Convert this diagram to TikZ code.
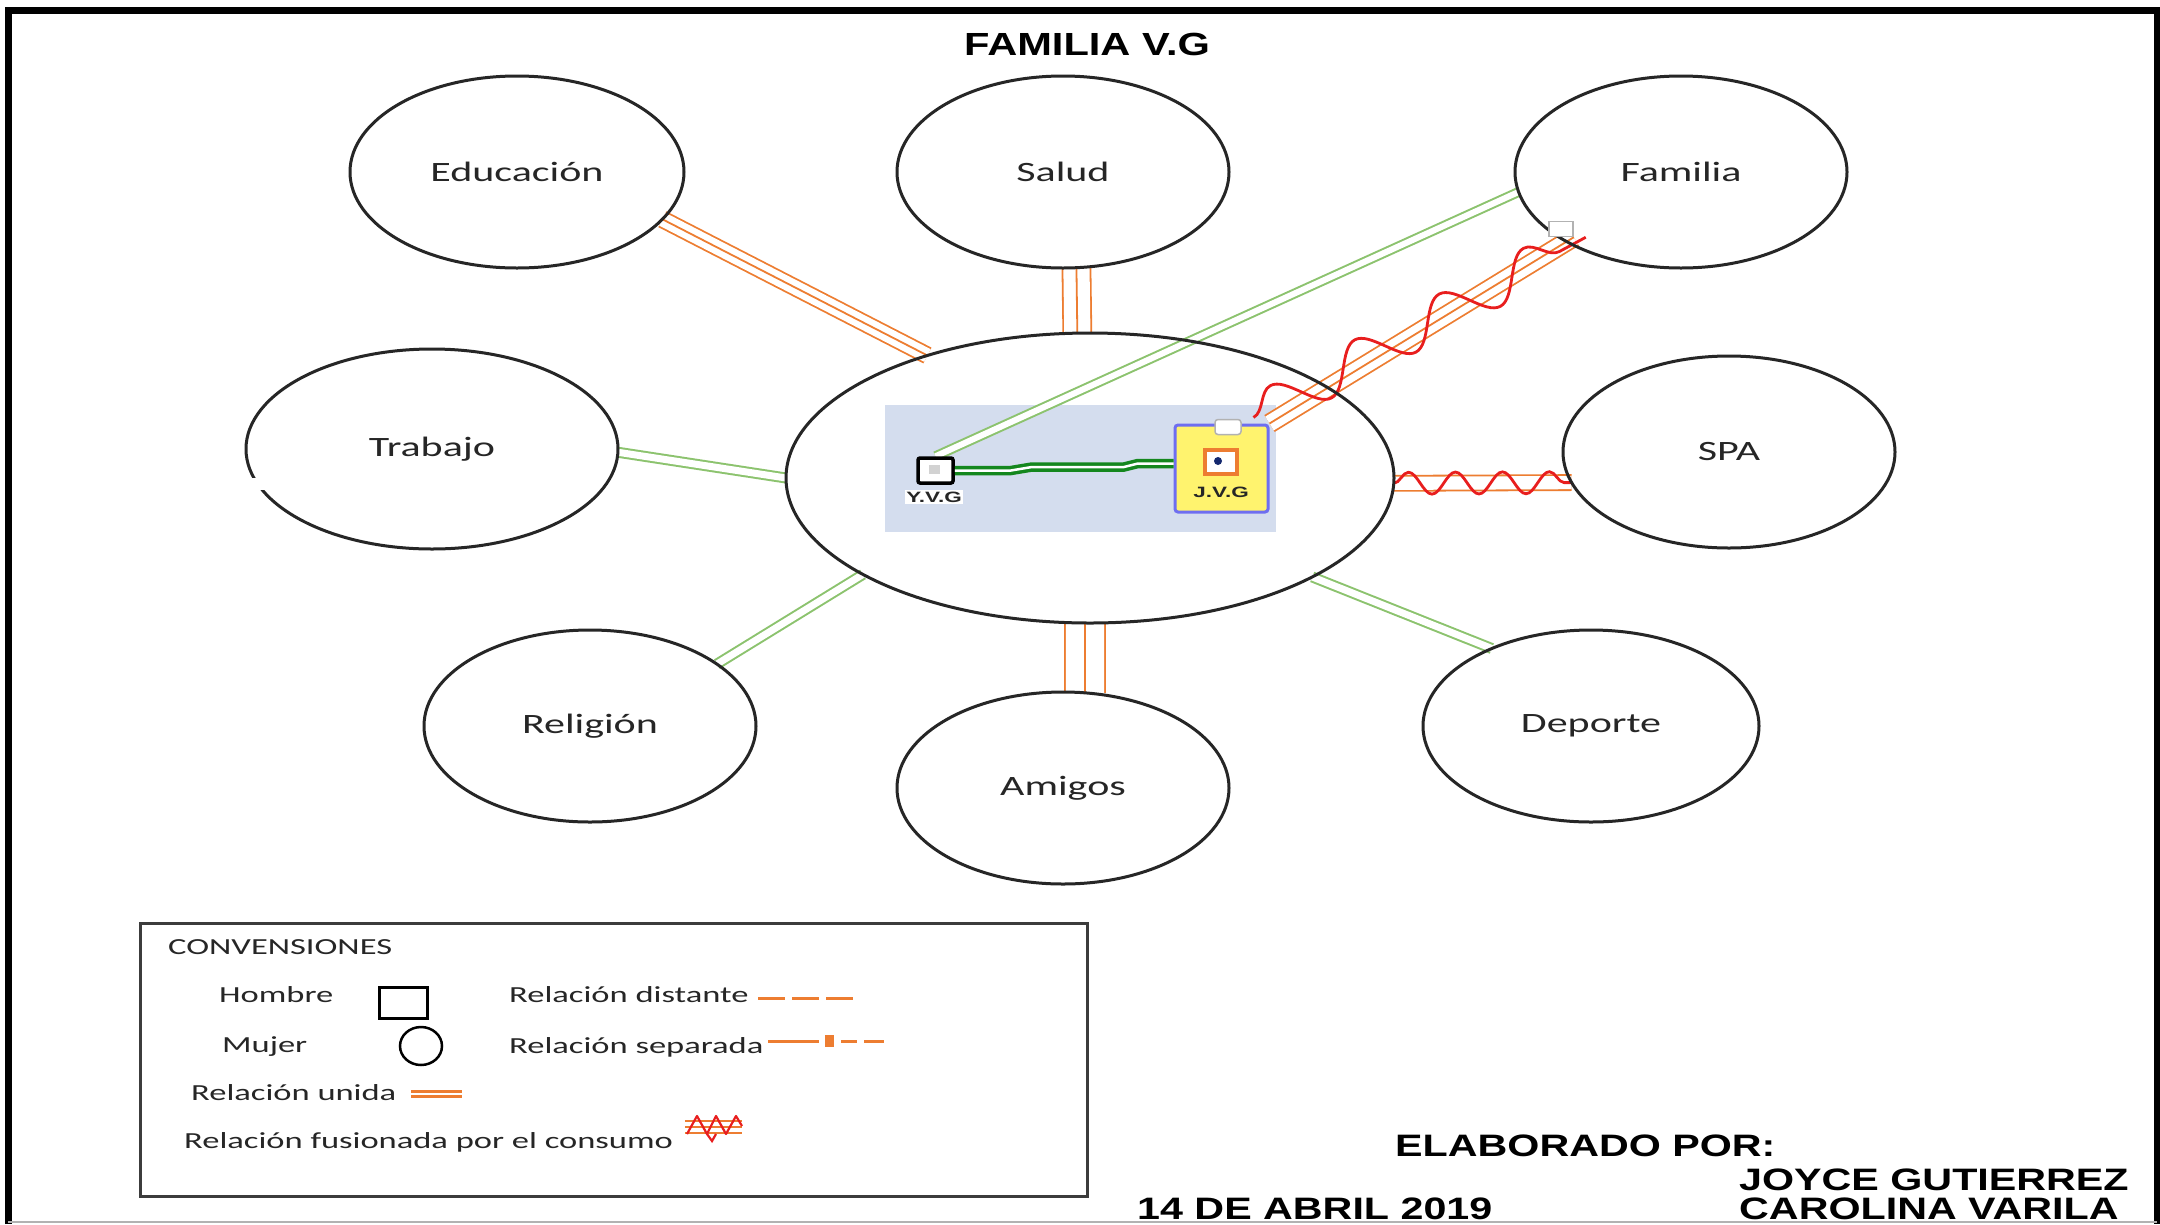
\documentclass[tikz,border=0pt]{standalone}
\usepackage{fontspec}
\setmainfont{Carlito}
\newfontfamily\lblfont[FakeStretch=1.5]{Carlito}
\newfontfamily\hdfont[FakeStretch=1.33]{Liberation Sans}
\newfontfamily\ttlfont[FakeStretch=1.3]{Liberation Sans}
\newfontfamily\tnyfont[FakeStretch=1.5]{Liberation Sans}
\usetikzlibrary{shapes.geometric,decorations.pathmorphing,calc}
\pgfdeclarelayer{bgl}
\pgfdeclarelayer{lnl}
\pgfsetlayers{bgl,lnl,main}
\definecolor{orng}{RGB}{237,125,49}
\definecolor{lgrn}{RGB}{140,195,110}
\definecolor{dgrn}{RGB}{20,135,30}
\definecolor{wred}{RGB}{232,30,30}
\definecolor{bluebg}{RGB}{212,221,238}
\definecolor{jyel}{RGB}{255,243,110}
\definecolor{jblu}{RGB}{110,110,240}
\definecolor{ink}{RGB}{38,38,38}
\definecolor{dnavy}{RGB}{20,40,110}
\tikzset{
  circ/.style={ellipse, draw=ink, line width=3pt, inner sep=0pt, outer sep=0pt, text=ink, font=\lblfont\fontsize{28}{30}\selectfont},
  tri/.style={draw=orng, line width={2*#1+1.8pt}, postaction={draw=white, line width={2*#1-1.8pt}}, postaction={draw=orng, line width=1.8pt}},
  dbl/.style={draw=lgrn, line width={#1+2pt}, postaction={draw=white, line width={#1-2pt}}},
  dbo/.style={draw=orng, line width={#1+1.8pt}, postaction={draw=white, line width={#1-1.8pt}}},
  dgl/.style={draw=dgrn, line width=9.5pt, postaction={draw=white, line width=2.5pt}},
  lg/.style={anchor=west, inner sep=0pt, text=ink, font=\lblfont\fontsize{23}{25}\selectfont},
  hd/.style={anchor=west, inner sep=0pt, text=black, font=\hdfont\bfseries\fontsize{31}{33}\selectfont},
  tl/.style={inner sep=1.5pt, text=ink, font=\tnyfont\bfseries\fontsize{15}{16}\selectfont},
}
\begin{document}
\begin{tikzpicture}[x=1pt,y=-1pt]
\useasboundingbox (0,0) rectangle (2160,1224);
\begin{pgfonlayer}{bgl}
\fill[white] (0,0) rectangle (2160,1224);
\end{pgfonlayer}
% frame
\draw[black, line width=7pt] (8,1224) -- (8,10) -- (2157,10) -- (2157,1224);
\draw[gray!60, line width=1.5pt] (8,1222) -- (2157,1222);
% title
\node[inner sep=0pt, font=\ttlfont\bfseries\fontsize{32}{34}\selectfont] (title) at (1087,44) {FAMILIA V.G};
% circles
\node[circ, minimum width=334pt, minimum height=192pt] (educ) at (517,172) {Educación};
\node[circ, minimum width=332pt, minimum height=192pt] (salud) at (1063,172) {Salud};
\node[circ, minimum width=332pt, minimum height=192pt] (fam) at (1681,172) {Familia};
\node[circ, minimum width=372pt, minimum height=200pt] (trab) at (432,449) {Trabajo};
\node[circ, minimum width=332pt, minimum height=192pt] (spa) at (1729,452) {SPA};
\node[circ, minimum width=332pt, minimum height=192pt] (rel) at (590,726) {Religión};
\node[circ, minimum width=332pt, minimum height=192pt] (amig) at (1063,788) {Amigos};
\node[circ, minimum width=336pt, minimum height=192pt] (dep) at (1591,726) {Deporte};
\node[circ, minimum width=608pt, minimum height=290pt] (cen) at (1090,478) {};
% gap in Trabajo outline
\fill[white] (243,478) rectangle (272,490);
% group background
\begin{pgfonlayer}{bgl}
\node[fill=bluebg, minimum width=391pt, minimum height=127pt, inner sep=0pt] (grp) at (1080.5,468.5) {};
\end{pgfonlayer}
% persons
\node[draw=black, line width=3.5pt, fill=white, rounded corners=2pt, minimum width=35pt, minimum height=25pt, inner sep=0pt] (yvg) at (935.5,470.5) {};
\fill[gray!35] (929,465) rectangle (940,474);
\node[tl, fill=white] (yvgl) at (934,497) {Y.V.G};
\node[draw=jblu, fill=jyel, line width=3pt, rounded corners=3pt, minimum width=93pt, minimum height=87pt, inner sep=0pt] (jvg) at (1221.5,468.5) {};
\node[draw=gray!60, fill=white, line width=1.5pt, rounded corners=3pt, minimum width=26pt, minimum height=15pt, inner sep=0pt] (tab) at (1228,427) {};
\node[draw=orng, line width=4pt, fill=white, minimum width=32pt, minimum height=24pt, inner sep=0pt] (jsq) at (1221,462) {};
\fill[dnavy] (1218,461) circle[radius=4pt];
\node[tl] (jvgl) at (1221,492) {J.V.G};
\node[draw=gray!60, fill=white, line width=1.5pt, minimum width=24pt, minimum height=15pt, inner sep=0pt] (famsq) at (1561,229) {};
% connectors
\begin{pgfonlayer}{lnl}
\draw[tri=8pt] (educ.-18.1) -- (cen.143.7);
\draw[tri=14pt] (salud.-82.9) -- (cen.95.9);
\draw[tri=20pt] (cen.268) -- (amig.77);
\draw[dbl=9pt] (trab.-1.8) -- (cen.180);
\draw[dbl=9pt] (rel.26.6) -- (cen.203.8);
\draw[dbl=9pt] (cen.-24.5) -- (dep.142.5);
\draw[dbl=8pt] (yvg.north) -- (fam.187.5);
\draw[dbo=15pt] (cen.-1.3) -- (spa.191.8);
\draw[wred, line width=2.8pt, decorate, decoration={snake, amplitude=11pt, segment length=47pt}] (cen.-1.3) -- (spa.191.8);
\draw[tri=9pt] (jvg.north east) -- (famsq.south east);
\draw[wred, line width=2.8pt, decorate, decoration={snake, amplitude=20pt, segment length=96pt}] ($(jvg.north east)+(-16,-6)$) -- ($(famsq.south east)+(12,0)$);
\end{pgfonlayer}
\draw[dgl] (yvg.east) -- (1011,470.5) -- (1032,467) -- (1124,467) -- (1138,463.5) -- ($(jvg.west)+(0,-5)$);
% legend
\node[draw=ink!90, line width=3pt, minimum width=947pt, minimum height=273pt, inner sep=0pt] (leg) at (613.5,1059.5) {};
\node[lg] (conv) at (168,947) {CONVENSIONES};
\node[lg] (hom) at (219,995) {Hombre};
\node[draw=black, line width=3pt, minimum width=48pt, minimum height=31pt, inner sep=0pt] (lsq) at (403,1002.5) {};
\node[lg] (muj) at (222,1047) {Mujer};
\node[ellipse, draw=black, line width=2.5pt, minimum width=42pt, minimum height=38pt, inner sep=0pt] (lell) at (421,1046) {};
\node[lg] (rdist) at (509,995) {Relación distante};
\node[lg] (rsep) at (509,1047) {Relación separada};
\node[lg] (runi) at (191,1093) {Relación unida};
\node[lg] (rfus) at (184,1142) {Relación fusionada por el consumo};
\coordinate (d1) at (758,998);
\coordinate (d2) at (854,998);
\draw[orng, line width=3pt, dash pattern=on 27pt off 7pt] (d1) -- (d2);
\coordinate (s1) at (768,1041);
\coordinate (s2) at (819,1041);
\coordinate (s3) at (841,1041);
\coordinate (s4) at (857,1041);
\coordinate (s5) at (864,1041);
\coordinate (s6) at (884,1041);
\draw[orng, line width=3pt] (s1) -- (s2);
\fill[orng] (825,1035) rectangle (834,1047);
\draw[orng, line width=3pt] (s3) -- (s4) (s5) -- (s6);
\coordinate (u1) at (411,1094);
\coordinate (u2) at (462,1094);
\draw[orng, line width=8.5pt, postaction={draw=white, line width=2.5pt}] (u1) -- (u2);
\coordinate (f1) at (685,1127);
\coordinate (f2) at (742,1127);
\draw[tri=6pt] (f1) -- (f2);
\draw[wred, line width=2.2pt, line join=round] (687,1134) -- (697,1116) -- (707,1134) -- (716,1116) -- (726,1134) -- (736,1116) -- (742,1126);
\draw[wred, line width=2.2pt] (707,1134) -- (712,1141) -- (716,1134);
% credits
\node[hd] (elab) at (1395,1146) {ELABORADO POR:};
\node[hd] (joyce) at (1739,1180) {JOYCE GUTIERREZ};
\node[hd] (carol) at (1739,1209) {CAROLINA VARILA};
\node[hd] (fecha) at (1137,1209) {14 DE ABRIL 2019};
\end{tikzpicture}
\end{document}
